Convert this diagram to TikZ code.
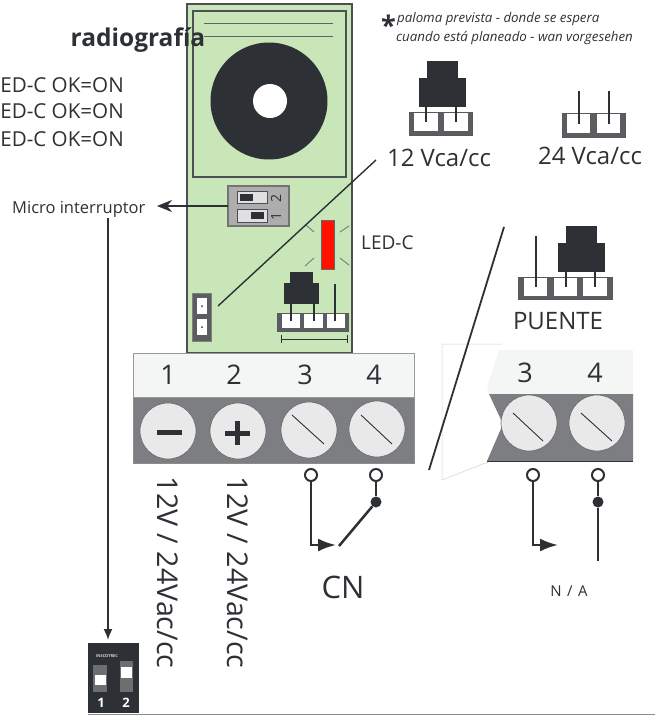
\documentclass[tikz,border=0pt]{standalone}
\usepackage{fontspec}
\setmainfont{Open Sans}
\usepackage{xcolor}
\usetikzlibrary{shapes,arrows,arrows.meta,positioning,fit,backgrounds,calc}
\definecolor{pcbgreen}{HTML}{C9E6B9}
\definecolor{inkdark}{HTML}{2D3035}
\definecolor{blockgray}{HTML}{7D7E82}
\definecolor{screwgray}{HTML}{E9E9E9}
\definecolor{labelwhite}{HTML}{F4F6F5}
\definecolor{basegray}{HTML}{5C5D61}
\newcommand{\fs}[1]{\fontsize{#1}{#1}\selectfont}

\begin{document}
\begin{tikzpicture}[
    x=1pt, y=-1pt,
    box/.style={rectangle, inner sep=0pt, outer sep=0pt},
    capbox/.style={box, fill=inkdark},
    basebox/.style={box, fill=basegray, draw=inkdark!80, line width=.8pt},
    cellbox/.style={box, fill=white},
    pin/.style={draw=inkdark, line width=2pt},
    wire/.style={draw=inkdark, line width=2.5pt},
    tiparrow/.style={wire, -{Latex[length=18pt, width=13pt]}},
    thinarrow/.style={draw=inkdark, line width=1.7pt, -{Stealth[length=15pt, width=12pt]}},
    screw/.style={circle, draw=inkdark!70, line width=.7pt, fill=screwgray, minimum size=56pt, inner sep=0pt},
    terminal/.style={circle, draw=inkdark, line width=2pt, fill=white, minimum size=12pt, inner sep=0pt},
    joint/.style={circle, fill=inkdark, minimum size=11pt, inner sep=0pt},
    ray/.style={draw=inkdark!65, line width=.9pt},
    ghost/.style={draw=black!18, line width=.5pt},
    lbl/.style={inner sep=0pt, text=inkdark}
]
    \useasboundingbox (0,0) rectangle (655,715);

    % board
    \node [box, fill=pcbgreen, draw=inkdark!85, line width=1.8pt, minimum width=165, minimum height=349] (board) at (269.5,178.5) {};
    \node [box, draw=inkdark!85, line width=2pt, minimum width=153, minimum height=166] (cover) at (269.5,94) {};
    \coordinate (lineaL) at (204,23);
    \coordinate (lineaR) at (333,23);
    \coordinate (linebL) at (204,36);
    \coordinate (linebR) at (333,36);
    \draw [draw=inkdark!75, line width=1pt] (lineaL) -- (lineaR);
    \draw [draw=inkdark!75, line width=.8pt] (linebL) -- (linebR);
    \node [circle, fill=inkdark, minimum size=117pt, inner sep=0pt] (buzzer) at (269,101) {};
    \node [circle, fill=white, minimum size=34pt, inner sep=0pt] (hole) at (270,101) {};

    % dip switch on the board
    \node [box, fill=black!32, draw=black!55, line width=1.2pt, minimum width=61, minimum height=40] (dipsw) at (258.5,206) {};
    \node [box, fill=black!12, draw=inkdark!85, line width=1pt, minimum width=30, minimum height=12] (slot2) at (252,197) {};
    \node [box, fill=black!12, draw=inkdark!85, line width=1pt, minimum width=30, minimum height=13] (slot1) at (252,215.5) {};
    \node [capbox, minimum width=13, minimum height=7] (knob2) at (246.5,197) {};
    \node [capbox, minimum width=13, minimum height=7] (knob1) at (257.5,215.5) {};
    \node [lbl, rotate=90, font=\fs{14}] (sw2) at (276,198) {2};
    \node [lbl, rotate=90, font=\fs{14}] (sw1) at (276,216) {1};

    % led
    \node [box, fill=red!85!orange, draw=black!60, line width=1pt, minimum width=13, minimum height=49] (led) at (327.5,244.5) {};
    \node [lbl, anchor=west, font=\fs{19}] (ledlabel) at (361,243) {LED-C};
    \draw [ray] (306,225) -- (314,232);
    \draw [ray] (349,226) -- (340,232);
    \draw [ray] (305,266) -- (314,258);
    \draw [ray] (349,265) -- (340,258);

    % jumper on the left of the board
    \node [box, fill=basegray, draw=black!50, line width=.8pt, minimum width=19, minimum height=48] (jump) at (201.5,317) {};
    \node [cellbox, minimum width=10, minimum height=16] (jumpa) at (202,306) {};
    \node [cellbox, minimum width=10, minimum height=16] (jumpb) at (202,327) {};
    \fill [inkdark] (jumpa) circle (1);
    \fill [inkdark] (jumpb) circle (1);

    % jumper block on the board
    \node [basebox, minimum width=71, minimum height=18] (basepcb) at (312.5,322) {};
    \node [cellbox, minimum width=18, minimum height=14] (cella) at (291,321) {};
    \node [cellbox, right=4pt of cella, minimum width=19, minimum height=14] (cellb) {};
    \node [cellbox, right=4pt of cellb, minimum width=18, minimum height=14] (cellc) {};
    \node [capbox, minimum width=23, minimum height=11] (captop) at (301.5,277) {};
    \node [capbox, below=0pt of captop, minimum width=35, minimum height=21] (capbody) {};
    \coordinate (pinc) at (335,284);
    \draw [pin] (capbody.south -| cella) -- (cella.center);
    \draw [pin] (capbody.south -| cellb) -- (cellb.center);
    \draw [pin] (pinc) -- (pinc |- cellc.center);
    \node [box, minimum width=66, minimum height=8] (span) at (314,339) {};
    \draw [draw=inkdark, line width=.8pt] (span.north west) -- (span.south west);
    \draw [draw=inkdark, line width=.8pt] (span.north east) -- (span.south east);
    \draw [draw=inkdark, line width=.8pt] (span.west) -- (span.east);

    % terminal block
    \node [box, fill=blockgray, draw=black!45, line width=.7pt, minimum width=281, minimum height=66] (blockgrey) at (273.5,430) {};
    \node [box, fill=labelwhite, draw=black!40, line width=.7pt, minimum width=281, minimum height=44] (blockwhite) at (273.5,375) {};
    \node [lbl, font=\fs{27}] (n1) at (168,375) {1};
    \node [lbl, font=\fs{27}] (n2) at (234,375) {2};
    \node [lbl, font=\fs{27}] (n3) at (305,375) {3};
    \node [lbl, font=\fs{27}] (n4) at (374,375) {4};
    \node [screw] (scr1) at (168,431) {};
    \node [screw] (scr2) at (238,431) {};
    \node [screw] (scr3) at (309,430) {};
    \node [screw] (scr4) at (377,429) {};
    \fill [inkdark] (157,430) rectangle (182,434.5);
    \fill [inkdark] (225,430.5) rectangle (250,435.5);
    \fill [inkdark] (235,421) rectangle (240,445);
    \draw [draw=inkdark, line width=.9pt] (292,415) -- (324,444);
    \draw [draw=inkdark, line width=.9pt] (361,415) -- (392,444);

    % wiring, normally closed
    \node [terminal] (t3) at (311,475) {};
    \node [terminal] (t4) at (376,475) {};
    \node [joint] (j4) at (376,502) {};
    \coordinate (tip3) at (336,545);
    \coordinate (open4) at (339,546);
    \draw [tiparrow] (t3.south) |- (tip3);
    \draw [wire] (t4) -- (j4);
    \draw [wire] (j4) -- (open4);
    \node [lbl, font=\fs{31}] (cn) at (343,587) {CN};

    % labels on the left
    \node [lbl, font=\fs{24.5}\bfseries] (radio) at (138,40) {radiografía};
    \node [lbl, anchor=east, font=\fs{20.6}] (ok1) at (124,85) {ED-C OK=ON};
    \node [lbl, anchor=east, font=\fs{20.6}] (ok2) at (124,111) {ED-C OK=ON};
    \node [lbl, anchor=east, font=\fs{20.6}] (ok3) at (124,139) {ED-C OK=ON};
    \node [lbl, anchor=west, font=\fs{16.5}] (micro) at (12,209) {Micro interruptor};
    \coordinate (microend) at (157,206);
    \draw [thinarrow] (dipsw.west) -- (microend);

    % small dip switch at the bottom
    \node [box, fill=inkdark, minimum width=51, minimum height=70] (dipsmall) at (113.5,678) {};
    \node [box, fill=white!30!inkdark, minimum width=14, minimum height=27] (sl1) at (100,678.5) {};
    \node [box, fill=white!30!inkdark, minimum width=13, minimum height=31] (sl2) at (126.5,676.5) {};
    \node [cellbox, minimum width=11, minimum height=10] (kn1) at (100.5,680) {};
    \node [cellbox, minimum width=11, minimum height=11] (kn2) at (126.5,672.5) {};
    \node [lbl, text=white, font=\fs{13}\bfseries] (d1) at (101,703) {1};
    \node [lbl, text=white, font=\fs{13}\bfseries] (d2) at (126,703) {2};
    \node [lbl, text=white!80!inkdark, font=\fs{4}\bfseries] (brand) at (107,656) {INSCOTREC};
    \coordinate (drop) at (108,218);
    \coordinate (droptip) at (108,640);
    \draw [thinarrow, -{Latex[length=11pt, width=9pt]}] (drop) -- (droptip);
    \coordinate (rulestart) at (88,714.5);
    \coordinate (ruleend) at (655,714.5);
    \draw [draw=black!45, line width=.7pt] (rulestart) -- (ruleend);

    % supply text
    \node [lbl, rotate=-90, font=\fs{28.6}] (supa) at (168,572.5) {12V / 24Vac/cc};
    \node [lbl, rotate=-90, font=\fs{28.6}] (supb) at (238,572.5) {12V / 24Vac/cc};

    % note
    \node [lbl, font=\fs{27}\bfseries] (star) at (388.5,25) {*};
    \node [lbl, anchor=west, font=\fs{13.3}\itshape] (notea) at (397,19) {paloma prevista - donde se espera};
    \node [lbl, anchor=west, font=\fs{13.3}\itshape] (noteb) at (396,38) {cuando está planeado - wan vorgesehen};

    % 12 V jumper
    \node [basebox, minimum width=63, minimum height=23] (base12) at (440.5,123.5) {};
    \node [cellbox, minimum width=24, minimum height=18] (cell12a) at (426,122) {};
    \node [cellbox, right=6pt of cell12a, minimum width=24, minimum height=18] (cell12b) {};
    \node [capbox, minimum width=31, minimum height=17] (cap12top) at (442.5,69.5) {};
    \node [capbox, below=0pt of cap12top, minimum width=47, minimum height=29] (cap12) {};
    \draw [pin] (cap12.south -| cell12a) -- (cell12a.center);
    \draw [pin] (cap12.south -| cell12b) -- (cell12b.center);
    \node [lbl, font=\fs{24}] (v12) at (439,158) {12 Vca/cc};

    % 24 V jumper
    \node [basebox, minimum width=63, minimum height=24] (base24) at (593.5,125) {};
    \node [cellbox, minimum width=23, minimum height=19] (cell24a) at (578.5,123.5) {};
    \node [cellbox, right=7pt of cell24a, minimum width=23, minimum height=19] (cell24b) {};
    \coordinate (pin24a) at (578.5,91);
    \coordinate (pin24b) at (608.5,91);
    \draw [pin] (pin24a) -- (cell24a.center);
    \draw [pin] (pin24b) -- (cell24b.center);
    \node [lbl, font=\fs{24}] (v24) at (590,156) {24 Vca/cc};

    % bridge jumper
    \node [basebox, minimum width=94, minimum height=22] (basepu) at (565,288) {};
    \node [cellbox, minimum width=23, minimum height=18] (cellpua) at (535.5,287) {};
    \node [cellbox, right=7pt of cellpua, minimum width=23, minimum height=18] (cellpub) {};
    \node [cellbox, right=6pt of cellpub, minimum width=24, minimum height=18] (cellpuc) {};
    \node [capbox, minimum width=31, minimum height=17] (cappuntop) at (581.5,234.5) {};
    \node [capbox, below=0pt of cappuntop, minimum width=47, minimum height=29] (cappu) {};
    \coordinate (pinpu) at (535.5,236);
    \draw [pin] (pinpu) -- (cellpua.center);
    \draw [pin] (cappu.south -| cellpub) -- (cellpub.center);
    \draw [pin] (cappu.south -| cellpuc) -- (cellpuc.center);
    \node [lbl, font=\fs{24}] (puente) at (558,321) {PUENTE};

    % cut view of the terminal block
    \draw [ghost] (501,344) -- (442,344) -- (442,480) -- (488,462);
    \fill [labelwhite] (499,350) -- (633,350) -- (633,394) -- (489,394) -- (487,387) -- cycle;
    \fill [blockgray] (489,394) -- (633,394) -- (633,461) -- (487,461) -- (503,424) -- cycle;
    \draw [draw=inkdark, line width=.7pt] (487,461) -- (633,461);
    \node [lbl, font=\fs{27}] (m3) at (525,373) {3};
    \node [lbl, font=\fs{27}] (m4) at (595,373) {4};
    \node [screw] (scb3) at (529,423) {};
    \node [screw] (scb4) at (597,423) {};
    \draw [draw=inkdark, line width=.9pt] (513,413) -- (543,441);
    \draw [draw=inkdark, line width=.9pt] (581,413) -- (612,441);

    % wiring, normally open
    \node [terminal] (tb3) at (533,475) {};
    \node [terminal] (tb4) at (598,475) {};
    \node [joint] (jb4) at (598,502) {};
    \coordinate (tipb3) at (558,545);
    \coordinate (endb4) at (598,561);
    \draw [tiparrow] (tb3.south) |- (tipb3);
    \draw [wire] (tb4) -- (jb4);
    \draw [wire] (jb4) -- (endb4);
    \node [lbl, font=\fs{15}\addfontfeatures{LetterSpace=10}] (na) at (569,591) {N / A};

    % long strokes
    \coordinate (diaga) at (218,306);
    \coordinate (diagb) at (376,160);
    \coordinate (cuta) at (504,227);
    \coordinate (cutb) at (429,470);
    \draw [draw=inkdark, line width=1.4pt] (diaga) -- (diagb);
    \draw [draw=inkdark, line width=1.8pt] (cuta) -- (cutb);
\end{tikzpicture}
\end{document}
